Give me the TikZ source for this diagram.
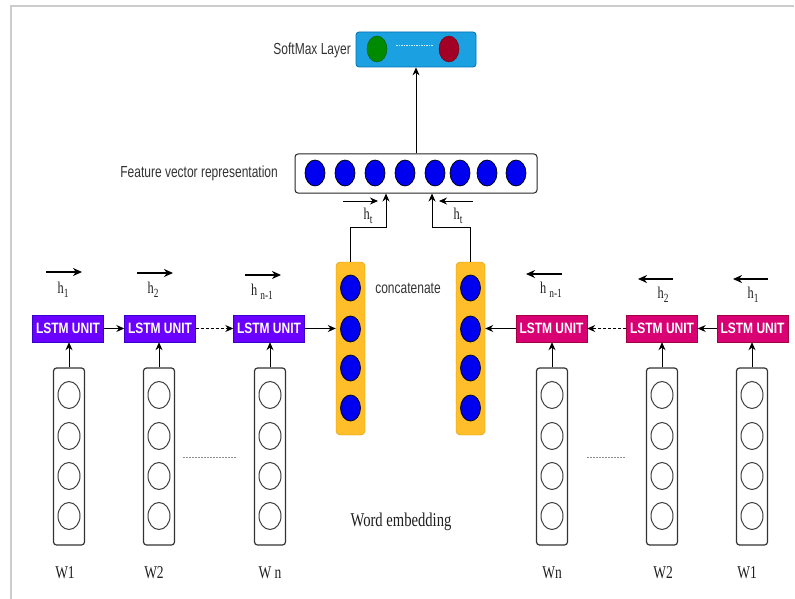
\documentclass[tikz,border=0pt]{standalone}
\usepackage{fontspec}
\setmainfont{Liberation Serif}
\newfontfamily\sansf[FakeStretch=0.75]{Liberation Sans}
\newfontfamily\serifn[FakeStretch=0.75]{Liberation Serif}
\newfontfamily\unitf[FakeStretch=0.8]{Liberation Sans}
\usetikzlibrary{arrows.meta,shapes.geometric}

\definecolor{unitAfill}{HTML}{6A00FF}
\definecolor{unitAline}{HTML}{3700CC}
\definecolor{unitBfill}{HTML}{D80073}
\definecolor{unitBline}{HTML}{A50040}
\definecolor{smfill}{HTML}{1BA1E2}
\definecolor{smline}{HTML}{006EAF}
\definecolor{gfill}{HTML}{008A00}
\definecolor{gline}{HTML}{005700}
\definecolor{rfill}{HTML}{A20025}
\definecolor{rline}{HTML}{6F0000}
\definecolor{bluefill}{HTML}{0000F0}
\definecolor{concfill}{HTML}{FFBE2A}
\definecolor{concline}{HTML}{D79B00}
\definecolor{frame}{HTML}{CCCCCC}

% h with a lowered index; #2 is the gap before the index
\newcommand{\hsub}[2]{h\hspace{#2}\raisebox{-4pt}{\fontsize{12.5}{12.5}\selectfont #1}}

\tikzset{
  lbl/.style={font=\sansf\fontsize{16}{18}\selectfont, text=black!80, inner sep=0pt},
  serif/.style={font=\serifn\fontsize{18}{20}\selectfont, text=black!88, inner sep=0pt},
  hlbl/.style={font=\serifn\fontsize{16.5}{18}\selectfont, text=black!88, inner sep=0pt, anchor=base},
  unitA/.style={rectangle, draw=unitAline, fill=unitAfill, minimum width=71pt,
    minimum height=27pt, inner sep=0pt, text=white,
    font=\unitf\bfseries\fontsize{15}{15}\selectfont},
  unitB/.style={unitA, draw=unitBline, fill=unitBfill},
  embbox/.style={rectangle, draw=black!80, line width=1.2pt, rounded corners=3pt,
    fill=white, minimum width=31pt, minimum height=177pt, inner sep=0pt},
  embdot/.style={ellipse, draw=black!75, line width=1pt, minimum width=22pt,
    minimum height=27pt, inner sep=0pt},
  concbox/.style={rectangle, draw=concline, fill=concfill, rounded corners=4pt,
    minimum width=29pt, minimum height=173pt, inner sep=0pt},
  bdot/.style={ellipse, draw=black, fill=bluefill, line width=0.7pt,
    minimum width=20pt, minimum height=26pt, inner sep=0pt},
  link/.style={-{Stealth[length=8pt,width=7pt]}, line width=1pt},
  hdir/.style={-{Stealth[length=9pt,width=8pt]}, line width=1.5pt},
}

\begin{document}
\begin{tikzpicture}[x=1pt,y=-1pt]
\useasboundingbox (0,0) rectangle (795,599);

% frame lines
\draw[frame, line width=1.5pt] (11,599) -- (11,6) -- (794,6);

% softmax layer
\node[rectangle, draw=smline, fill=smfill, rounded corners=3pt, line width=0.8pt,
  minimum width=120pt, minimum height=35pt, inner sep=0pt] (sm) at (416,49.5) {};
\node[ellipse, draw=gline, fill=gfill, minimum width=20pt, minimum height=26pt,
  inner sep=0pt] (smg) at (377,49) {};
\node[ellipse, draw=rline, fill=rfill, minimum width=20pt, minimum height=26pt,
  inner sep=0pt] (smr) at (449,49) {};
\draw[white!85!smfill, line width=0.8pt, dash pattern=on 1.5pt off 1pt]
  ([xshift=9pt,yshift=4pt]smg.east) -- ([xshift=-6pt,yshift=4pt]smr.west);
\node[lbl, anchor=base east] (smlbl) at (351,55) {SoftMax Layer};

% feature vector
\node[rectangle, draw=black!85, rounded corners=3pt, line width=1pt, fill=white,
  minimum width=242pt, minimum height=39pt, inner sep=0pt] (fv) at (416,173.5) {};
\foreach \i/\x in {1/315,2/345,3/375,4/405,5/435,6/460,7/487,8/516}
  \node[bdot] (fv\i) at (\x,173) {};
\node[lbl, anchor=base east] (fvlbl) at (278,178) {Feature vector representation};
\draw[link] (fv.north) -- (sm.south);

% concatenation columns
\node[concbox] (cL) at (350.5,348.5) {};
\node[concbox] (cR) at (470.5,348.5) {};
\foreach \i/\y in {1/288,2/329,3/368,4/408} {
  \node[bdot] (cL\i) at (350.5,\y) {};
  \node[bdot] (cR\i) at (470.5,\y) {};
}
\node[lbl, anchor=base] (conclbl) at (408,293) {concatenate};

% joins into the feature vector
\coordinate (jL) at (386,227);
\coordinate (jR) at (432,227);
\draw[link] (cL.north) |- (jL) -- (jL |- fv.south);
\draw[link] (cR.north) |- (jR) -- (jR |- fv.south);
\coordinate (htLa) at (343,201);
\coordinate (htLb) at (378,201);
\coordinate (htRa) at (473,201);
\coordinate (htRb) at (439,201);
\draw[link] (htLa) -- (htLb);
\draw[link] (htRa) -- (htRb);
\node[hlbl] (htL) at (368,219) {\hsub{t}{0pt}};
\node[hlbl] (htR) at (458,219) {\hsub{t}{0pt}};

% word embeddings
\foreach \n/\x/\w in {eL1/65/W1, eL2/154/W2, eLn/270/W n, eRn/552/Wn, eR2/663/W2, eR1/747/W1}
  \node[serif, anchor=base] (\n lbl) at (\x,578) {\w};
\foreach \n/\x in {eL1/69, eL2/159, eLn/270, eRn/552, eR2/662, eR1/752} {
  \node[embbox] (\n) at (\x,456.5) {};
  \foreach \i/\y in {1/395,2/436,3/476,4/516}
    \node[embdot] (\n c\i) at (\x,\y) {};
}
\draw[black!45, line width=0.8pt, dash pattern=on 2pt off 1pt] (183,457) -- (237,457);
\draw[black!45, line width=0.8pt, dash pattern=on 2pt off 1pt] (587,457) -- (626,457);
\node[serif, anchor=base, font=\serifn\fontsize{19.5}{21}\selectfont] (welbl) at (401,526) {Word embedding};

% forward LSTM units
\node[unitA] (uL1) at (68,328.5) {LSTM UNIT};
\node[unitA] (uL2) at (160,328.5) {LSTM UNIT};
\node[unitA] (uLn) at (269,328.5) {LSTM UNIT};
\draw[link] (uL1) -- (uL2);
\draw[link, dash pattern=on 3pt off 2pt] (uL2) -- (uLn);
\draw[link] (uLn.east) -- (uLn.east -| cL.west);

% backward LSTM units
\node[unitB] (uRn) at (551.5,328.5) {LSTM UNIT};
\node[unitB] (uR2) at (662,328.5) {LSTM UNIT};
\node[unitB] (uR1) at (752.5,328.5) {LSTM UNIT};
\draw[link] (uR1) -- (uR2);
\draw[link, dash pattern=on 3pt off 2pt] (uR2) -- (uRn);
\draw[link] (uRn.west) -- (uRn.west -| cR.east);

% inputs into the units
\foreach \e/\u in {eL1/uL1, eL2/uL2, eLn/uLn, eRn/uRn, eR2/uR2, eR1/uR1}
  \draw[link] (\e.north) -- (\e.north |- \u.south);

% hidden state labels
\draw[hdir] (46,272) -- (82,272);
\node[hlbl] (hL1) at (63,293) {\hsub{1}{0pt}};
\draw[hdir] (137,273) -- (173,273);
\node[hlbl] (hL2) at (153,293) {\hsub{2}{0pt}};
\draw[hdir] (245,275) -- (281,275);
\node[hlbl] (hLn) at (262,295) {\hsub{n-1}{3pt}};
\draw[hdir] (562,274) -- (526,274);
\node[hlbl] (hRn) at (551,293) {\hsub{n-1}{3pt}};
\draw[hdir] (673,279) -- (638,279);
\node[hlbl] (hR2) at (663,298) {\hsub{2}{0pt}};
\draw[hdir] (768,279) -- (733,279);
\node[hlbl] (hR1) at (753,298) {\hsub{1}{0pt}};
\end{tikzpicture}
\end{document}
